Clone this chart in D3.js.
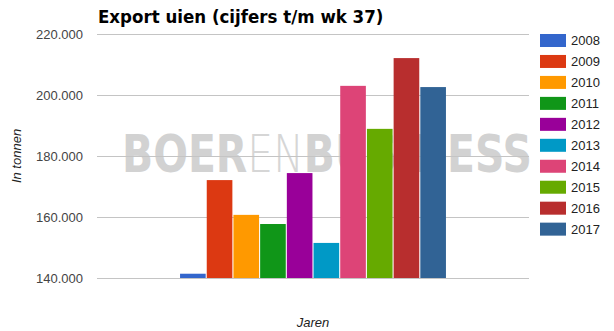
<!DOCTYPE html>
<html>
<head>
<meta charset="utf-8">
<script src="https://cdn.jsdelivr.net/npm/d3@7"></script>
<style>
  body { margin: 0; background: #fff; }
  text { font-family: "Liberation Sans", Arial, sans-serif; }
</style>
</head>
<body>
<div id="chart"></div>
<script>
var svgWidth = 614;
var svgHeight = 331;

// chart area
var margin = { top: 34, right: 85, bottom: 53, left: 97 };
var width = svgWidth - margin.left - margin.right;
var height = svgHeight - margin.top - margin.bottom;

// data
var categories = [""];
var years = ["2008", "2009", "2010", "2011", "2012", "2013", "2014", "2015", "2016", "2017"];
var exportValues = [141400, 172100, 160700, 157700, 174400, 151500, 203000, 188900, 212100, 202600];
var colors = ["#3366cc", "#dc3912", "#ff9900", "#109618", "#990099", "#0099c6", "#dd4477", "#66aa00", "#b82e2e", "#316395"];
var yTicks = [140000, 160000, 180000, 200000, 220000];

var svg = d3.select("#chart")
  .append("svg")
  .attr("width", svgWidth)
  .attr("height", svgHeight);

// watermark goes first so bars and gridlines sit on top of it
var wmGroup = svg.append("g");
var wm = wmGroup.append("text")
  .attr("x", 0)
  .attr("y", 0)
  .style("font-family", "'DejaVu Sans', sans-serif")
  .style("font-size", "51px");
wm.append("tspan").attr("font-weight", "bold").attr("fill", "#d2d2d2").text("BOER");
wm.append("tspan").attr("font-weight", "200").attr("fill", "#d6d6d6").text("EN");
wm.append("tspan").attr("font-weight", "bold").attr("fill", "#d2d2d2").text("BUSINESS");
// squeeze it so it runs from x=122 to x=532 like the logo
var wmWidth = wm.node().getComputedTextLength();
wmGroup.attr("transform", `translate(122, 172) scale(${410 / wmWidth}, 1)`);

var chartGroup = svg.append("g")
  .attr("transform", `translate(${margin.left}, ${margin.top})`);

var yLinearScale = d3.scaleLinear()
  .domain([140000, 220000])
  .range([height, 0]);

var x0 = d3.scaleBand()
  .domain(categories)
  .range([0, width])
  .paddingInner(0.238)
  .paddingOuter(0.238);

var x1 = d3.scaleBand()
  .domain(years)
  .range([0, x0.bandwidth()])
  .paddingInner(0.04);

var color = d3.scaleOrdinal().domain(years).range(colors);

var fmt = d => d3.format(",")(d).replace(/,/g, ".");

// gridlines + tick labels
var leftAxis = d3.axisLeft(yLinearScale)
  .tickValues(yTicks)
  .tickSize(-width)
  .tickPadding(14)
  .tickFormat(fmt);

var yAxis = chartGroup.append("g").call(leftAxis);
yAxis.select(".domain").remove();
yAxis.selectAll("line").attr("stroke", "#c4c4c4");
yAxis.selectAll("text")
  .style("font-size", "13px")
  .attr("fill", "#444");

// bars
var series = years.map((y, i) => ({ year: y, value: exportValues[i] }));

chartGroup.append("g")
  .attr("transform", `translate(${x0("")}, 0)`)
  .selectAll("rect")
  .data(series)
  .enter()
  .append("rect")
  .attr("x", d => x1(d.year))
  .attr("width", x1.bandwidth())
  .attr("y", d => yLinearScale(d.value))
  .attr("height", d => height - yLinearScale(d.value))
  .attr("fill", d => color(d.year));

// title
svg.append("text")
  .attr("x", 98)
  .attr("y", 23)
  .style("font-family", "'DejaVu Sans Condensed', 'DejaVu Sans', sans-serif")
  .style("font-stretch", "condensed")
  .style("font-size", "18.5px")
  .style("font-weight", "bold")
  .attr("fill", "#000")
  .text("Export uien (cijfers t/m wk 37)");

// axis titles
svg.append("text")
  .attr("transform", `translate(21, ${margin.top + height / 2}) rotate(-90)`)
  .attr("text-anchor", "middle")
  .style("font-size", "13px")
  .style("font-style", "italic")
  .attr("fill", "#222")
  .text("In tonnen");

svg.append("text")
  .attr("x", margin.left + width / 2)
  .attr("y", 327)
  .attr("text-anchor", "middle")
  .style("font-size", "13px")
  .style("font-style", "italic")
  .attr("fill", "#222")
  .text("Jaren");

// legend
var legend = svg.append("g")
  .attr("transform", "translate(540, 34)");

var legendItem = legend.selectAll("g")
  .data(years)
  .enter()
  .append("g")
  .attr("transform", (d, i) => `translate(0, ${i * 20.96})`);

legendItem.append("rect")
  .attr("width", 26)
  .attr("height", 13)
  .attr("fill", d => color(d));

legendItem.append("text")
  .attr("x", 31)
  .attr("y", 11)
  .style("font-size", "13px")
  .attr("fill", "#222")
  .text(d => d);
</script>
</body>
</html>
